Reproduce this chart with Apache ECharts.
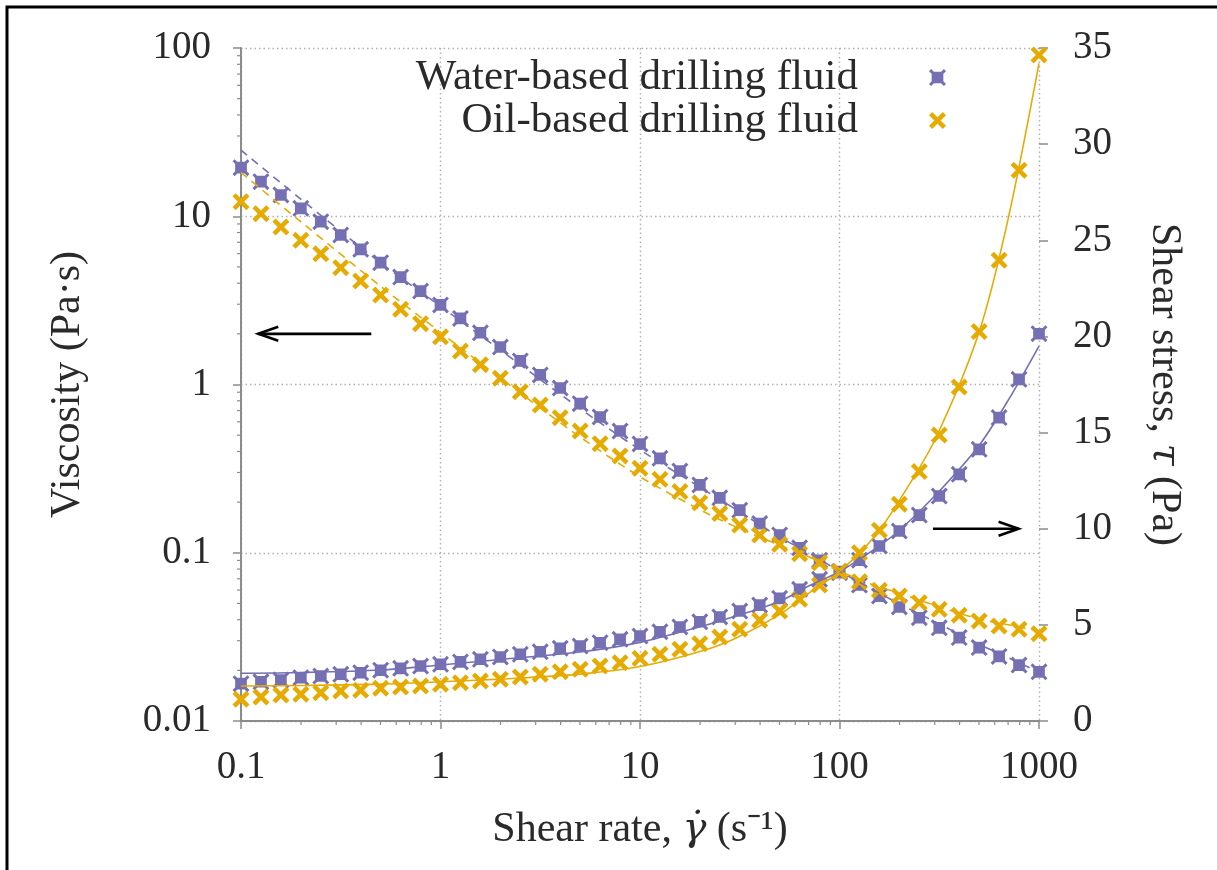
<!DOCTYPE html>
<html>
<head>
<meta charset="utf-8">
<script src="https://cdn.jsdelivr.net/npm/echarts@6/dist/echarts.min.js"></script>
<style>
html, body { margin: 0; padding: 0; background: #fff; }
#chart { width: 1217px; height: 870px; }
</style>
</head>
<body>
<div id="chart"></div>
<script>
// measured shear rates, 10 points per decade (s^-1)
var shearRate = [0.1, 0.1259, 0.1585, 0.1995, 0.2512, 0.3162, 0.3981, 0.5012, 0.631, 0.7943,
  1, 1.259, 1.585, 1.995, 2.512, 3.162, 3.981, 5.012, 6.31, 7.943,
  10, 12.59, 15.85, 19.95, 25.12, 31.62, 39.81, 50.12, 63.1, 79.43,
  100, 125.9, 158.5, 199.5, 251.2, 316.2, 398.1, 501.2, 631, 794.3, 1000];

// viscosity (Pa·s), left axis
var waterViscosity = [19.44, 16.05, 13.38, 11.15, 9.28, 7.74, 6.36, 5.30, 4.35, 3.59,
  2.97, 2.47, 2.03, 1.67, 1.38, 1.14, 0.953, 0.769, 0.641, 0.529,
  0.443, 0.364, 0.306, 0.253, 0.212, 0.179, 0.149, 0.1275, 0.107, 0.0902,
  0.0761, 0.0643, 0.0553, 0.0476, 0.0411, 0.0358, 0.0313, 0.0273, 0.0242, 0.0215, 0.0196];
var oilViscosity = [12.21, 10.36, 8.63, 7.20, 5.99, 4.95, 4.12, 3.40, 2.80, 2.30,
  1.92, 1.58, 1.31, 1.09, 0.906, 0.755, 0.635, 0.529, 0.445, 0.376,
  0.318, 0.273, 0.231, 0.198, 0.171, 0.146, 0.1275, 0.1122, 0.0987, 0.0873,
  0.0772, 0.0673, 0.0598, 0.0553, 0.0505, 0.0461, 0.0425, 0.0393, 0.0367, 0.0351, 0.0330];

// shear stress (Pa), right axis
var waterStress = [1.94, 2.04, 2.13, 2.25, 2.34, 2.43, 2.51, 2.64, 2.74, 2.86,
  2.95, 3.07, 3.21, 3.33, 3.47, 3.60, 3.78, 3.90, 4.07, 4.25,
  4.42, 4.64, 4.89, 5.16, 5.41, 5.72, 6.03, 6.38, 6.85, 7.37,
  7.77, 8.36, 9.10, 9.88, 10.71, 11.70, 12.83, 14.13, 15.78, 17.77, 20.14];
var oilStress = [1.13, 1.25, 1.35, 1.39, 1.47, 1.56, 1.60, 1.70, 1.77, 1.82,
  1.91, 1.99, 2.08, 2.17, 2.29, 2.43, 2.56, 2.69, 2.86, 3.03,
  3.26, 3.47, 3.73, 4.02, 4.37, 4.77, 5.24, 5.72, 6.33, 7.07,
  7.77, 8.75, 9.92, 11.27, 12.97, 14.87, 17.37, 20.25, 23.96, 28.64, 34.64];

// fitted model curves, sampled
var fitRate = [0.1, 0.2, 0.5, 1, 2, 5, 10, 20, 30, 50, 70, 100, 150, 200, 300, 500, 700, 1000];
var waterStressFit = [2.48, 2.52, 2.65, 2.91, 3.20, 3.59, 4.09, 4.90, 5.45, 6.22, 7.02, 7.77, 8.94, 9.92, 11.70, 14.32, 16.67, 19.50];
var oilStressFit = [1.82, 1.85, 1.92, 2.04, 2.18, 2.44, 2.83, 3.61, 4.29, 5.53, 6.64, 7.77, 9.59, 11.49, 14.6, 20.2, 26.1, 34.2];
var waterViscFit = [24.7, 12.6, 5.3, 2.92, 1.60, 0.72, 0.409, 0.245, 0.182, 0.124, 0.100, 0.0777, 0.0596, 0.0496, 0.039, 0.0286, 0.0238, 0.0195];
var oilViscFit = [18.2, 9.25, 3.84, 2.04, 1.09, 0.488, 0.283, 0.180, 0.143, 0.111, 0.0948, 0.0777, 0.0639, 0.0575, 0.0487, 0.0404, 0.0373, 0.0342];

// minor ticks of the log axes
var rateMinorTicks = [0.2, 0.3, 0.4, 0.5, 0.6, 0.7, 0.8, 0.9, 2, 3, 4, 5, 6, 7, 8, 9,
  20, 30, 40, 50, 60, 70, 80, 90, 200, 300, 400, 500, 600, 700, 800, 900];
var viscMinorTicks = [0.02, 0.03, 0.04, 0.05, 0.06, 0.07, 0.08, 0.09, 0.2, 0.3, 0.4, 0.5, 0.6, 0.7, 0.8, 0.9,
  2, 3, 4, 5, 6, 7, 8, 9, 20, 30, 40, 50, 60, 70, 80, 90];

// annotation arrows in data coordinates
var viscArrow = { from: [0.45, 2], to: [0.122, 2] };
var stressArrow = { from: [294, 10], to: [790, 10] };

var PURPLE = "#7570b3";
var GOLD = "#e6ab02";
var TEXT = "#2a2a2a";
var FONT = "Liberation Serif";
var SQX = "path://M2.5,2.5L13.5,2.5L13.5,13.5L2.5,13.5Z M0,2L2,0L8,6L14,0L16,2L10,8L16,14L14,16L8,10L2,16L0,14L6,8Z";
var XMARK = "path://M0,3L3,0L8,5L13,0L16,3L11,8L16,13L13,16L8,11L3,16L0,13L5,8Z";

function pairs(xs, ys) {
  return xs.map(function (x, i) { return [x, ys[i]]; });
}
function tickLabel(v) {
  return String(Number(Number(v).toPrecision(3)));
}

var chart = echarts.init(document.getElementById("chart"));

var gridLine = { show: true, lineStyle: { color: "#b0b0b0", width: 1.4, type: [1.5, 3] } };
var axisLineStyle = { show: true, lineStyle: { color: "#8c8c8c", width: 2 } };
var tickText = { fontFamily: FONT, fontSize: 39, color: TEXT };
var titleText = { fontFamily: FONT, fontSize: 42, color: TEXT };
var mathItalic = { fontFamily: "DejaVu Serif", fontSize: 40, fontStyle: "italic", color: TEXT };

chart.setOption({
  animation: false,
  backgroundColor: "#fff",
  grid: { left: 241, right: 178, top: 48, bottom: 149, outerBoundsMode: "none" },
  legend: {
    orient: "vertical",
    right: 266,
    top: 51,
    align: "right",
    itemWidth: 17,
    itemHeight: 17,
    itemGap: 0,
    selectedMode: false,
    textStyle: { fontFamily: FONT, fontSize: 43, lineHeight: 42, color: TEXT, padding: [0, 66, 0, 0] },
    data: [
      { name: "Water-based drilling fluid", icon: SQX, itemStyle: { color: PURPLE } },
      { name: "Oil-based drilling fluid", icon: XMARK, itemStyle: { color: GOLD } }
    ]
  },
  xAxis: {
    type: "log",
    logBase: 10,
    min: 0.1,
    max: 1000,
    name: "Shear rate, {i|γ̇} (s⁻¹)",
    nameLocation: "middle",
    nameGap: 88,
    nameTextStyle: Object.assign({ rich: { i: mathItalic } }, titleText),
    axisLine: axisLineStyle,
    axisTick: { show: true, inside: false, length: 8, lineStyle: { color: "#8c8c8c", width: 1.5 } },
    axisLabel: Object.assign({ margin: 27, formatter: tickLabel }, tickText),
    splitLine: gridLine
  },
  yAxis: [
    {
      type: "log",
      logBase: 10,
      min: 0.01,
      max: 100,
      name: "Viscosity (Pa·s)",
      nameLocation: "middle",
      nameRotate: 90,
      nameGap: 152,
      nameTextStyle: titleText,
      axisLine: axisLineStyle,
      axisTick: { show: true, inside: false, length: 8, lineStyle: { color: "#8c8c8c", width: 1.5 } },
      axisLabel: Object.assign({ margin: 30, formatter: tickLabel }, tickText),
      splitLine: gridLine
    },
    {
      type: "value",
      position: "right",
      min: 0,
      max: 35,
      interval: 5,
      name: "Shear stress, {i|τ} (Pa)",
      nameLocation: "middle",
      nameRotate: -90,
      nameGap: 104,
      nameTextStyle: Object.assign({ rich: { i: mathItalic } }, titleText),
      axisLine: { show: false },
      axisTick: { show: true, inside: false, length: 9, lineStyle: { color: "#8c8c8c", width: 1.5 } },
      axisLabel: Object.assign({ margin: 34 }, tickText),
      splitLine: { show: false }
    }
  ],
  series: [
    {
      type: "custom", name: "rate minor ticks", silent: true, clip: false,
      xAxisIndex: 0, yAxisIndex: 0,
      data: rateMinorTicks.map(function (v) { return [v, 0.01]; }),
      renderItem: function (params, api) {
        var p = api.coord([api.value(0), api.value(1)]);
        return { type: "line", shape: { x1: p[0], y1: p[1], x2: p[0], y2: p[1] + 4 }, style: { stroke: "#8c8c8c", lineWidth: 1.2 } };
      }
    },
    {
      type: "custom", name: "viscosity minor ticks", silent: true, clip: false,
      xAxisIndex: 0, yAxisIndex: 0,
      data: viscMinorTicks.map(function (v) { return [0.1, v]; }),
      renderItem: function (params, api) {
        var p = api.coord([api.value(0), api.value(1)]);
        return { type: "line", shape: { x1: p[0] - 4, y1: p[1], x2: p[0], y2: p[1] }, style: { stroke: "#8c8c8c", lineWidth: 1.2 } };
      }
    },
    {
      type: "scatter", name: "Water-based drilling fluid", yAxisIndex: 0,
      symbol: SQX, symbolSize: 17, itemStyle: { color: PURPLE, opacity: 1 },
      data: pairs(shearRate, waterViscosity)
    },
    {
      type: "scatter", name: "Water-based drilling fluid", yAxisIndex: 1,
      symbol: SQX, symbolSize: 17, itemStyle: { color: PURPLE, opacity: 1 },
      data: pairs(shearRate, waterStress)
    },
    {
      type: "line", name: "water viscosity fit", yAxisIndex: 0, showSymbol: false, smooth: 0.3,
      lineStyle: { color: PURPLE, width: 1.6, type: [8, 6] },
      data: pairs(fitRate, waterViscFit)
    },
    {
      type: "line", name: "water stress fit", yAxisIndex: 1, showSymbol: false, smooth: 0.3,
      lineStyle: { color: PURPLE, width: 1.6 },
      data: pairs(fitRate, waterStressFit)
    },
    {
      type: "scatter", name: "Oil-based drilling fluid", yAxisIndex: 0,
      symbol: XMARK, symbolSize: 17, itemStyle: { color: GOLD, opacity: 1 },
      data: pairs(shearRate, oilViscosity)
    },
    {
      type: "scatter", name: "Oil-based drilling fluid", yAxisIndex: 1,
      symbol: XMARK, symbolSize: 17, itemStyle: { color: GOLD, opacity: 1 },
      data: pairs(shearRate, oilStress)
    },
    {
      type: "line", name: "oil viscosity fit", yAxisIndex: 0, showSymbol: false, smooth: 0.3,
      lineStyle: { color: GOLD, width: 1.6, type: [8, 6] },
      data: pairs(fitRate, oilViscFit)
    },
    {
      type: "line", name: "oil stress fit", yAxisIndex: 1, showSymbol: false, smooth: 0.3,
      lineStyle: { color: GOLD, width: 1.6 },
      data: pairs(fitRate, oilStressFit)
    }
  ]
});

// arrows and picture frame
function arrow(a, yIndex) {
  var p0 = chart.convertToPixel({ xAxisIndex: 0, yAxisIndex: yIndex }, a.from);
  var p1 = chart.convertToPixel({ xAxisIndex: 0, yAxisIndex: yIndex }, a.to);
  var dir = p1[0] > p0[0] ? 1 : -1;
  var style = { stroke: "#000", lineWidth: 2.6, fill: null, lineJoin: "miter" };
  return [
    { type: "line", shape: { x1: p0[0], y1: p0[1], x2: p1[0], y2: p1[1] }, style: style },
    { type: "polyline", shape: { points: [[p1[0] - dir * 20, p1[1] - 7], [p1[0], p1[1]], [p1[0] - dir * 20, p1[1] + 7]] }, style: style }
  ];
}
chart.setOption({
  graphic: [
    { type: "rect", shape: { x: 7, y: 7, width: 1400, height: 1000 }, style: { fill: null, stroke: "#000", lineWidth: 3 }, silent: true }
  ].concat(arrow(viscArrow, 0), arrow(stressArrow, 1))
});

window.addEventListener("resize", function () { chart.resize(); });
</script>
</body>
</html>
